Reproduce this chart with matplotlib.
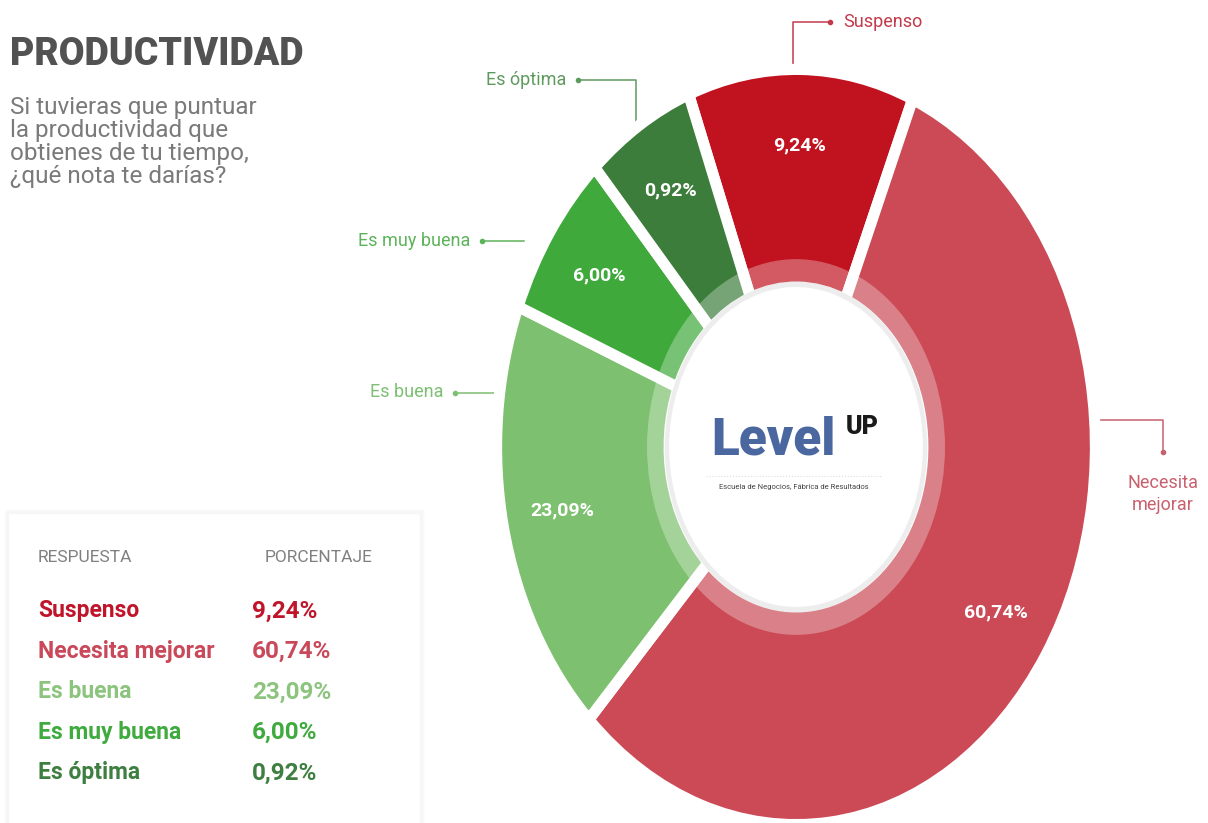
import matplotlib.pyplot as plt
import numpy as np
from matplotlib.patches import Circle, Wedge, Rectangle

plt.rcParams['font.family'] = ['Roboto', 'DejaVu Sans']

answers = ['Suspenso', 'Necesita mejorar', 'Es buena', 'Es muy buena', 'Es óptima']
percent = [9.24, 60.74, 23.09, 6.00, 0.92]
# slice sizes as they are drawn in the artwork (it does not follow the percentages)
drawn_share = [12.2, 55.8, 18.9, 7.2, 5.9]

slice_colors = ['#c1121f', '#cb4a56', '#7dc06f', '#3fa93b', '#3d7d3c']
text_colors = ['#c0142a', '#c9485a', '#8cc47e', '#3faa3e', '#3e7e40']
leader_colors = ['#c23a4c', '#c9606e', '#7dbf73', '#5db35a', '#5e9a5e']

percent_txt = [f'{p:.2f}'.replace('.', ',') + '%' for p in percent]

fig = plt.figure(figsize=(12.08, 8.23), dpi=100)
fig.patch.set_facecolor('white')

# background layer in pixel coordinates
bg = fig.add_axes([0, 0, 1, 1])
bg.set_xlim(0, 1208)
bg.set_ylim(823, 0)
bg.axis('off')

bg.text(10, 54, 'PRODUCTIVIDAD', fontsize=27, fontweight='heavy', color='#525252',
        ha='left', va='center')
bg.text(10, 96, 'Si tuvieras que puntuar\nla productividad que\nobtienes de tu tiempo,\n¿qué nota te darías?',
        fontsize=17.5, color='#7a7a7a', ha='left', va='top', linespacing=1.0)

# table box with a faint shadow
for k, a in enumerate([0.008, 0.012, 0.018]):
    bg.add_patch(Rectangle((8 - 3 + k, 513 - 3 + k), 412 + 6 - 2 * k, 330, facecolor='none',
                           edgecolor='#000000', alpha=a, lw=2))
bg.add_patch(Rectangle((8, 513), 412, 330, facecolor='white', edgecolor='#f6f6f6', lw=1))
bg.text(38, 558, 'RESPUESTA', fontsize=12.5, color='#808080', va='center')
bg.text(265, 558, 'PORCENTAJE', fontsize=12.5, color='#808080', va='center')
for i, (a, p) in enumerate(zip(answers, percent_txt)):
    y = 611 + i * 40.5
    bg.text(38, y, a, fontsize=16.5, fontweight='bold', color=text_colors[i], va='center')
    bg.text(252, y, p, fontsize=17.5, fontweight='bold', color=text_colors[i], va='center')

# leader lines and outside labels
lw = 1.1
c = leader_colors[0]
bg.plot([793, 793, 830], [80, 22, 22], color=c, lw=lw)
bg.plot([830], [22], 'o', color=c, ms=3)
bg.text(843, 22, answers[0], fontsize=13, color=c, va='center', ha='left')

c = leader_colors[1]
bg.plot([1085, 1163, 1163], [420, 420, 452], color=c, lw=lw)
bg.plot([1163], [452], 'o', color=c, ms=3)
bg.text(1163, 494, 'Necesita\nmejorar', fontsize=13, color=c, va='center', ha='center',
        linespacing=1.3)

c = leader_colors[2]
bg.plot([455, 502], [393, 393], color=c, lw=lw)
bg.plot([455], [393], 'o', color=c, ms=3)
bg.text(443, 392, answers[2], fontsize=13, color=c, va='center', ha='right')

c = leader_colors[3]
bg.plot([482, 524], [241, 241], color=c, lw=lw)
bg.plot([482], [241], 'o', color=c, ms=3)
bg.text(470, 241, answers[3], fontsize=13, color=c, va='center', ha='right')

c = leader_colors[4]
bg.plot([578, 636, 636], [80, 80, 130], color=c, lw=lw)
bg.plot([578], [80], 'o', color=c, ms=3)
bg.text(566, 80, answers[4], fontsize=13, color=c, va='center', ha='right')

# donut (stretched into an ellipse like the artwork)
ax = fig.add_axes([(796 - 295) / 1208, 4 / 823, 590 / 1208, 744 / 823])
wedges, _ = ax.pie(drawn_share, colors=slice_colors, startangle=111, counterclock=False,
                   radius=1.015, wedgeprops=dict(width=0.585, edgecolor='white', linewidth=8))
ax.set_aspect('auto')
ax.set_xlim(-1, 1)
ax.set_ylim(-1, 1)
ax.axis('off')

# light inner ring and centre disc
ax.add_patch(Wedge((0, 0), 0.505, 0, 360, width=0.08, facecolor='white', alpha=0.3, lw=0))
ax.add_patch(Circle((0, 0), 0.445, facecolor='#000000', alpha=0.07, lw=0))
ax.add_patch(Circle((0, 0), 0.43, facecolor='white', lw=0))

for w, t in zip(wedges, percent_txt):
    ang = np.deg2rad((w.theta1 + w.theta2) / 2)
    ax.text(0.81 * np.cos(ang), 0.81 * np.sin(ang), t, fontsize=14, fontweight='bold',
            color='white', ha='center', va='center')

# centre logo (drawn with the donut axes so it sits above the disc)
px = bg.transData
ax.text(773, 440, 'Level', transform=px, fontsize=37, fontweight='heavy', color='#4a67a0',
        ha='center', va='center')
ax.text(862, 427, 'UP', transform=px, fontsize=18, fontweight='heavy', color='#1a1a1a',
        ha='center', va='center')
ax.plot([706, 882], [476, 476], transform=px, color='#dddddd', lw=0.8, ls=':')
ax.text(794, 487, 'Escuela de Negocios, Fábrica de Resultados', transform=px, fontsize=5.5,
        color='#444444', ha='center', va='center')

fig.savefig('out.png', dpi=100, facecolor='white')
